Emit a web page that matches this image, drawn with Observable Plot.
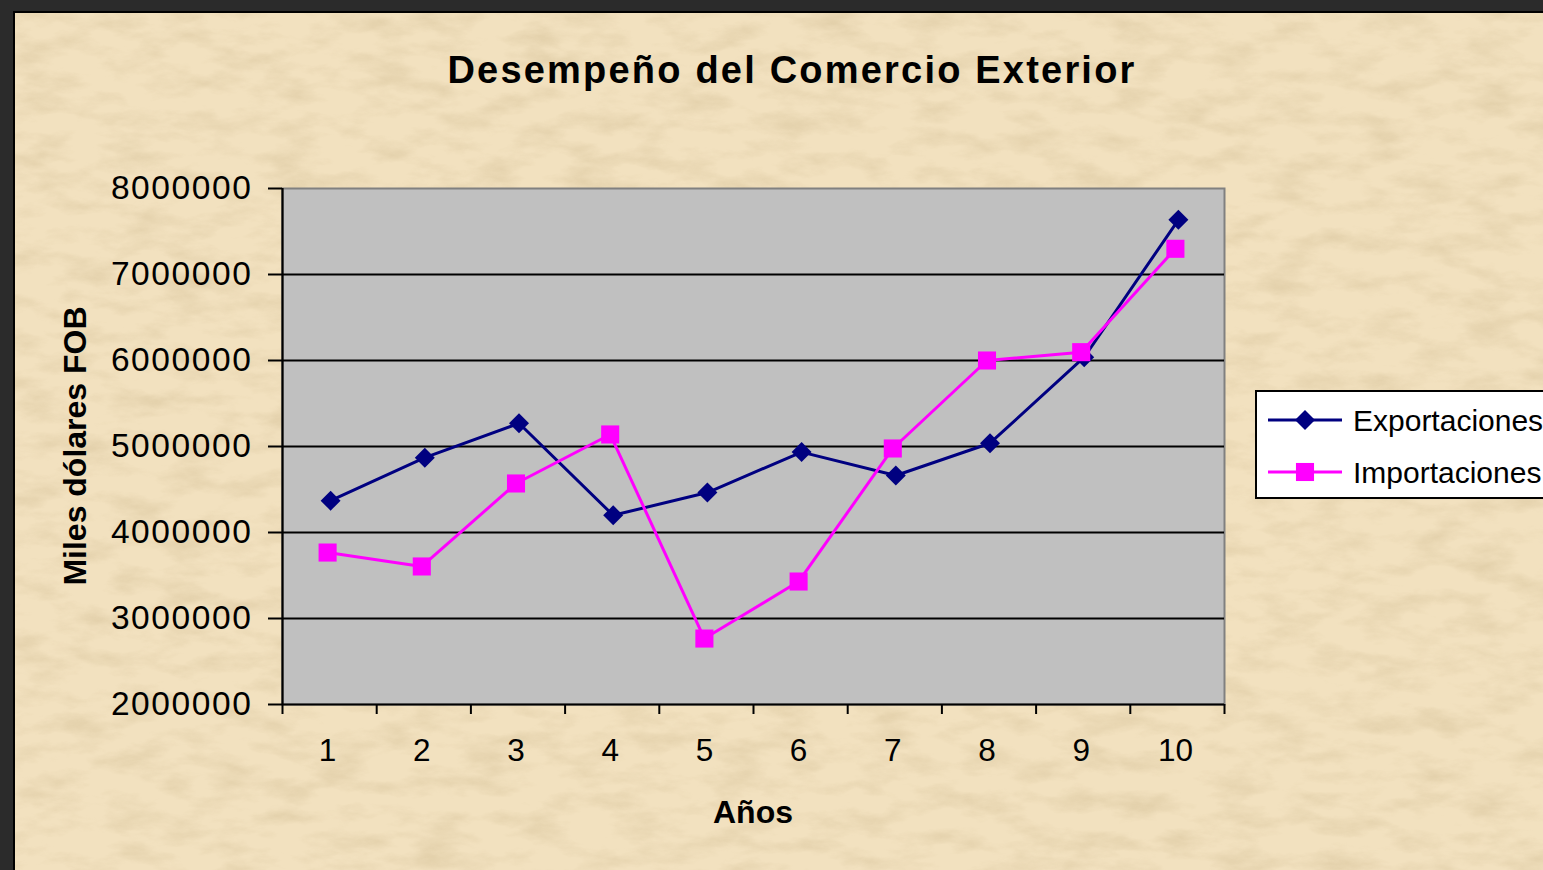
<!DOCTYPE html>
<html>
<head>
<meta charset="utf-8">
<script src="https://cdn.jsdelivr.net/npm/d3@7"></script>
<script src="https://cdn.jsdelivr.net/npm/@observablehq/plot@0.6"></script>
<style>
  html, body { margin: 0; padding: 0; width: 1543px; height: 870px; overflow: hidden; background: #2b2b2b; position: relative; }
  #panel { position: absolute; left: 13px; top: 11px; width: 1540px; height: 870px; border-left: 2px solid #000; border-top: 2px solid #000; overflow: hidden; }
  #tex { position: absolute; left: 0; top: 0; }
  #chart { position: absolute; left: 0; top: 0; width: 1543px; height: 870px; }
  #chart svg { position: absolute; left: 0; top: 0; }
  .lbl { position: absolute; font-family: "Liberation Sans", Arial, sans-serif; color: #000; white-space: nowrap; }
  #title { left: 292px; top: 52px; width: 1000px; height: 36px; line-height: 36px; text-align: center; font-size: 38px; font-weight: bold; letter-spacing: 2.2px; }
  #ytitle { left: -125px; top: 426px; width: 400px; height: 40px; line-height: 40px; text-align: center; font-size: 32px; font-weight: bold; transform: rotate(-90deg); }
  #xtitle { left: 603px; top: 795px; width: 300px; height: 34px; line-height: 34px; text-align: center; font-size: 32px; font-weight: bold; }
  #legend { position: absolute; left: 1255px; top: 390px; width: 320px; height: 105px; background: #fff; border: 2px solid #000; }
  [aria-label="y-axis tick label"] { letter-spacing: 1.6px; }
</style>
</head>
<body>
<div id="panel">
<svg id="tex" width="1540" height="870">
  <defs>
    <filter id="noise" x="0" y="0" width="100%" height="100%">
      <feTurbulence type="fractalNoise" baseFrequency="0.02 0.05" numOctaves="5" seed="7"/>
      <feColorMatrix type="matrix" values="0 0 0 0 0.6  0 0 0 0 0.47  0 0 0 0 0.26  2.0 0 0 0 -0.85"/>
    </filter>
  </defs>
  <rect width="100%" height="100%" fill="#f2e1bf"/>
  <rect width="100%" height="100%" filter="url(#noise)" opacity="0.4"/>
</svg>
</div>
<div id="chart"></div>
<div id="title" class="lbl">Desempeño del Comercio Exterior</div>
<div id="ytitle" class="lbl">Miles dólares FOB</div>
<div id="xtitle" class="lbl">Años</div>
<div id="legend"></div>
<script>
// ---- data ----
const years = [1, 2, 3, 4, 5, 6, 7, 8, 9, 10];
const exportaciones = [4370000, 4870000, 5270000, 4200000, 4465000, 4935000, 4663000, 5038000, 6038000, 7636000];
const importaciones = [3767000, 3605000, 4570000, 5140000, 2767000, 3430000, 4977000, 6000000, 6097000, 7299000];
const seriesNames = ["Exportaciones", "Importaciones"];
const seriesColors = ["#000080", "#ff00ff"];
const yTicks = [2000000, 3000000, 4000000, 5000000, 6000000, 7000000, 8000000];

const expData = years.map((y, i) => ({year: y, value: exportaciones[i], series: seriesNames[0]}));
const impData = years.map((y, i) => ({year: y, value: importaciones[i], series: seriesNames[1]}));
const bounds = [years[0] - 0.5, ...years.map(y => y + 0.5)];
const gridVals = yTicks.slice(1, -1);

const W = 1543, H = 870;
const rDia = 9, rSq = 10.2;
const chart = Plot.plot({
  width: W,
  height: H,
  marginLeft: 282,
  marginRight: W - 1224,
  marginTop: 188,
  marginBottom: H - 704,
  style: {background: "transparent", fontFamily: "'Liberation Sans', Arial, sans-serif", color: "#000", overflow: "visible"},
  x: {domain: [bounds[0], bounds[bounds.length - 1]], axis: null},
  y: {domain: [yTicks[0], yTicks[yTicks.length - 1]], axis: null},
  color: {domain: seriesNames, range: seriesColors},
  marks: [
    Plot.frame({fill: "#c0c0c0", stroke: "#808080", strokeWidth: 2}),
    Plot.ruleY(gridVals, {stroke: "#000", strokeWidth: 2.2}),
    Plot.ruleY([yTicks[0]], {stroke: "#000", strokeWidth: 2.2}),
    Plot.ruleX([bounds[0]], {stroke: "#000", strokeWidth: 2.2}),
    Plot.axisY({ticks: yTicks, tickSize: 14, tickPadding: 16, fontSize: 33.5, tickFormat: d3.format("d"), stroke: "#000", strokeWidth: 2, label: null}),
    Plot.axisX({ticks: bounds, tickSize: 10, tickFormat: () => "", stroke: "#000", strokeWidth: 2, label: null}),
    Plot.axisX({ticks: years, tickSize: 0, tickPadding: 34, fontSize: 31.5, tickFormat: d3.format("d"), label: null, dx: -2}),
    Plot.line(expData, {x: "year", y: "value", stroke: "series", strokeWidth: 3, dx: 1}),
    Plot.line(impData, {x: "year", y: "value", stroke: "series", strokeWidth: 3, dx: -2}),
    Plot.dot(expData, {x: "year", y: "value", fill: "series", symbol: "diamond2", r: rDia, stroke: null, dx: 1}),
    Plot.dot(impData, {x: "year", y: "value", fill: "series", symbol: "square", r: rSq, stroke: null, dx: -2})
  ]
});
document.getElementById("chart").appendChild(chart);

// legend
const legend = document.getElementById("legend");
const lsvg = d3.select(legend).append("svg").attr("width", 320).attr("height", 105).style("position", "absolute").style("left", "-2px").style("top", "-2px").style("overflow", "visible");
seriesNames.forEach((name, i) => {
  const cy = 30 + i * 52;
  const g = lsvg.append("g");
  g.append("line").attr("x1", 13).attr("x2", 87).attr("y1", cy).attr("y2", cy).attr("stroke", seriesColors[i]).attr("stroke-width", 3);
  const sym = i === 0 ? d3.symbolDiamond2 : d3.symbolSquare;
  const size = i === 0 ? rDia * rDia * Math.PI : rSq * rSq * Math.PI;
  g.append("path").attr("d", d3.symbol(sym, size)()).attr("transform", `translate(50,${cy})`).attr("fill", seriesColors[i]);
  g.append("text").attr("x", 98).attr("y", cy).attr("dy", "0.36em").attr("font-size", 30).attr("font-family", "'Liberation Sans', Arial, sans-serif").attr("fill", "#000").text(name);
});
</script>
</body>
</html>
